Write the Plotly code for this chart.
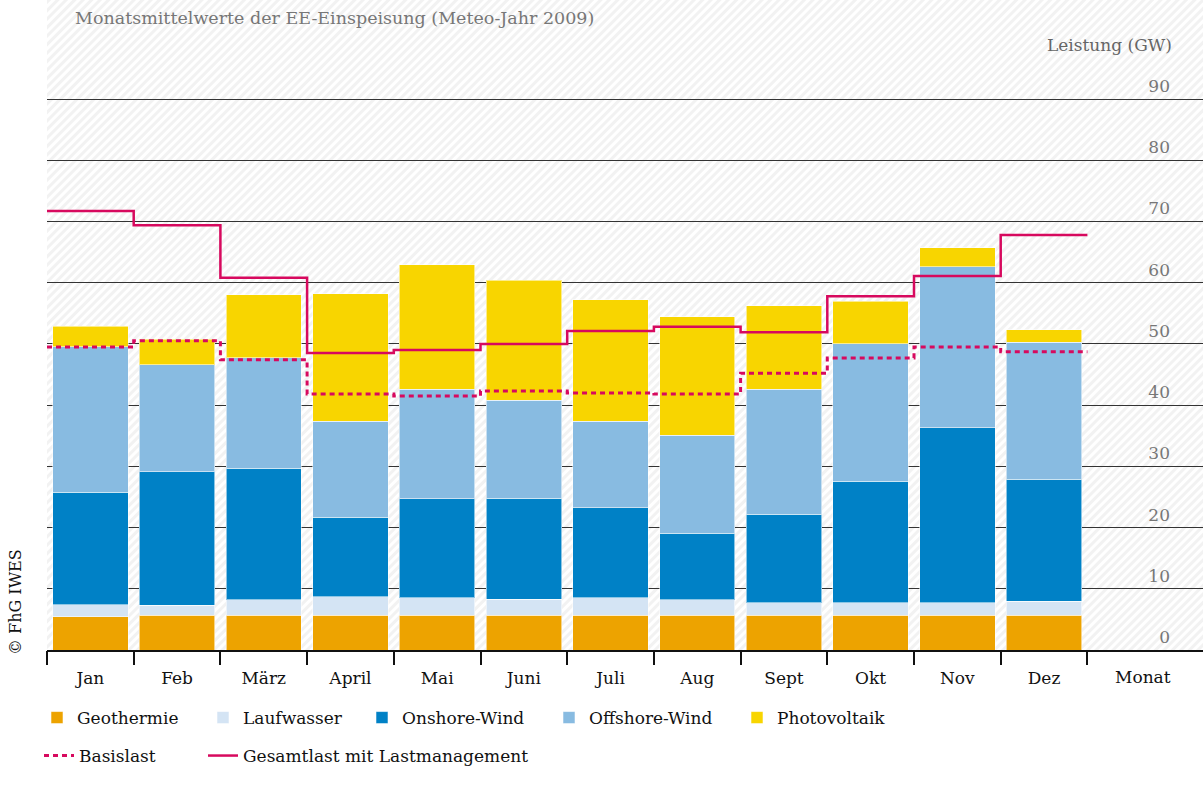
import base64
import numpy as np
import plotly.graph_objects as go

# ---------------- data ----------------
months = ["Jan", "Feb", "März", "April", "Mai", "Juni", "Juli", "Aug", "Sept", "Okt", "Nov", "Dez"]

geothermie = [5.4, 5.7, 5.7, 5.7, 5.7, 5.7, 5.7, 5.7, 5.7, 5.7, 5.7, 5.7]
laufwasser = [2.0, 1.6, 2.5, 3.0, 2.8, 2.6, 2.8, 2.5, 2.0, 2.0, 2.0, 2.3]
onshore = [18.4, 21.8, 21.5, 13.0, 16.2, 16.5, 14.7, 10.9, 14.5, 19.9, 28.6, 19.9]
offshore = [23.7, 17.5, 18.0, 15.7, 17.9, 16.0, 14.2, 16.0, 20.4, 22.4, 26.3, 22.4]
photovoltaik = [3.4, 4.2, 10.3, 20.8, 20.3, 19.6, 19.8, 19.3, 13.6, 7.0, 3.1, 2.0]

basislast = [49.5, 50.5, 47.4, 41.8, 41.5, 42.3, 42.0, 41.8, 45.2, 47.7, 49.5, 48.7]
gesamtlast = [71.7, 69.4, 60.8, 48.5, 49.0, 50.0, 52.1, 52.8, 51.9, 57.8, 61.1, 67.8]

y_ticks = [0, 10, 20, 30, 40, 50, 60, 70, 80, 90]

# ---------------- styling ----------------
FONT = "DejaVu Serif"
FS = 17
W, H = 1203, 787
ML, MR, MT, MB = 47, 0, 0, 137
PW, PH = W - ML - MR, H - MT - MB
PX_PER_GW = 6.122
YMAX = PH / PX_PER_GW

colors = {
    "Geothermie": "#EDA300",
    "Laufwasser": "#D4E4F4",
    "Onshore-Wind": "#0081C6",
    "Offshore-Wind": "#88BBE1",
    "Photovoltaik": "#F8D500",
}
LINE_COLOR = "#D7095E"

x_idx = np.arange(len(months))
x_edges = np.arange(len(months) + 1) - 0.5


def px_x(px):
    return (px - ML) / PW


def px_y(py):
    return (PH - py) / PH


legend_common = dict(orientation="h", xanchor="left", yanchor="middle",
                     font=dict(family=FONT, size=FS, color="#111"), bgcolor="rgba(0,0,0,0)")

fig = go.Figure()

bar_series = [("Geothermie", geothermie, 37), ("Laufwasser", laufwasser, 203),
              ("Onshore-Wind", onshore, 362), ("Offshore-Wind", offshore, 549),
              ("Photovoltaik", photovoltaik, 737)]
legend_layout = {}
for i, (name, vals, lx) in enumerate(bar_series):
    lname = "legend" if i == 0 else f"legend{i + 1}"
    fig.add_trace(go.Bar(
        x=x_idx, y=vals, name=name, width=0.87,
        marker=dict(color=colors[name], line=dict(color="rgba(255,255,255,0.55)", width=1)),
        legend=lname,
    ))
    legend_layout[lname] = dict(x=px_x(lx), y=px_y(718), **legend_common)

fig.add_trace(go.Scatter(
    x=x_edges, y=basislast + [basislast[-1]], name="Basislast", mode="lines",
    line=dict(color=LINE_COLOR, width=3, dash="5px,4px", shape="hv"),
    xaxis="x2", legend="legend6",
))
fig.add_trace(go.Scatter(
    x=x_edges, y=gesamtlast + [gesamtlast[-1]], name="Gesamtlast mit Lastmanagement", mode="lines",
    line=dict(color=LINE_COLOR, width=2.5, shape="hv"),
    xaxis="x2", legend="legend7",
))
legend_layout["legend6"] = dict(x=px_x(39), y=px_y(756), **legend_common)
legend_layout["legend7"] = dict(x=px_x(203), y=px_y(756), **legend_common)

# hatched background image
svg = f'''<svg xmlns="http://www.w3.org/2000/svg" width="{PW}" height="{PH}">
<defs><pattern id="p" width="6" height="6" patternUnits="userSpaceOnUse" patternTransform="rotate(45)">
<rect width="6" height="6" fill="#FFFFFF"/><rect width="3" height="6" fill="#F2F2F2"/></pattern></defs>
<rect width="{PW}" height="{PH}" fill="url(#p)"/></svg>'''
src = "data:image/svg+xml;base64," + base64.b64encode(svg.encode()).decode()

XR = [-0.5, -0.5 + PW / 86.7]

fig.update_layout(
    width=W, height=H,
    margin=dict(l=ML, r=MR, t=MT, b=MB, autoexpand=False),
    paper_bgcolor="white",
    plot_bgcolor="rgba(0,0,0,0)",
    barmode="stack",
    font=dict(family=FONT, size=FS, color="#222"),
    images=[dict(source=src, xref="paper", yref="paper", x=0, y=1, sizex=1, sizey=1,
                 sizing="stretch", layer="below", xanchor="left", yanchor="top")],
    xaxis=dict(
        range=XR, tickvals=list(x_idx), ticktext=months, ticks="",
        showgrid=False, zeroline=False, showline=True, linecolor="#111", linewidth=2,
        tickfont=dict(family=FONT, size=FS, color="#111"), ticklabelstandoff=12,
    ),
    xaxis2=dict(
        overlaying="x", matches="x", range=XR, tickvals=list(x_edges), ticks="outside",
        ticklen=14, tickwidth=2, tickcolor="#111", showticklabels=False,
        showgrid=False, zeroline=False, side="bottom",
    ),
    yaxis=dict(
        range=[0, YMAX], tickvals=y_ticks, side="right", ticklabelposition="inside",
        ticklabeloverflow="allow",
        showgrid=True, gridcolor="#333", gridwidth=1, zeroline=False, showline=False,
        tickfont=dict(family=FONT, size=FS, color="#777"),
        ticklabelstandoff=30, ticklabelshift=-13,
    ),
    showlegend=True,
    annotations=[
        dict(text="Monatsmittelwerte der EE-Einspeisung (Meteo-Jahr 2009)", xref="paper", yref="paper",
             x=px_x(73), y=px_y(18), xanchor="left", yanchor="middle", showarrow=False,
             font=dict(family=FONT, size=17.5, color="#777")),
        dict(text="Leistung (GW)", xref="paper", yref="paper",
             x=px_x(1174), y=px_y(45), xanchor="right", yanchor="middle", showarrow=False,
             font=dict(family=FONT, size=FS, color="#666")),
        dict(text="Monat", xref="paper", yref="paper",
             x=px_x(1143), y=px_y(677), xanchor="center", yanchor="middle", showarrow=False,
             font=dict(family=FONT, size=FS, color="#111")),
        dict(text="© FhG IWES", xref="paper", yref="paper", textangle=-90,
             x=px_x(15), y=px_y(602), xanchor="center", yanchor="middle", showarrow=False,
             font=dict(family=FONT, size=16, color="#111")),
    ],
)
fig.update_layout(**legend_layout)

fig.write_html("out.html", config={"displayModeBar": False},
               post_script="document.body.style.margin='0';")
